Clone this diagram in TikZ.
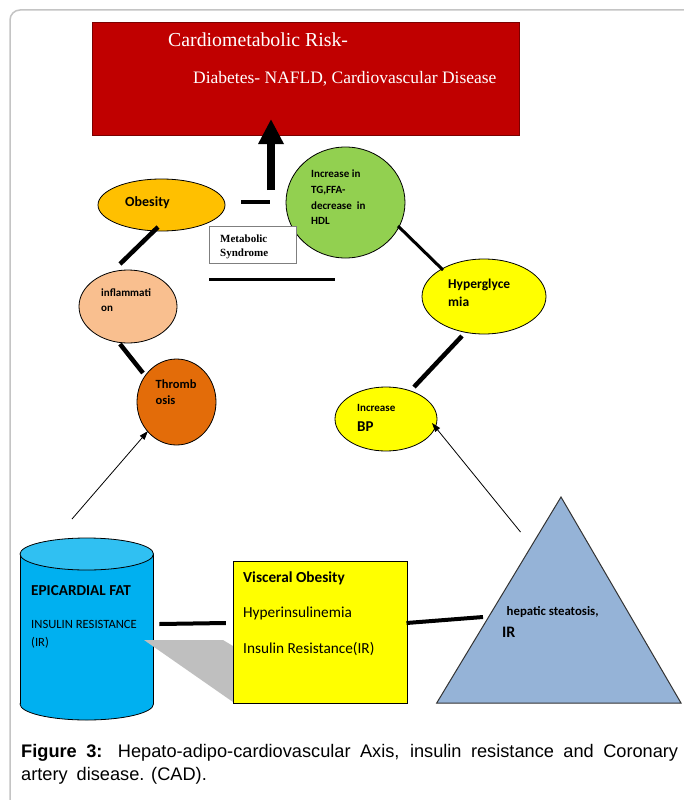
\documentclass[tikz,border=0pt]{standalone}
\usepackage{fontspec}
\usetikzlibrary{shapes.geometric,arrows.meta}
\newfontfamily\calfont{Carlito}
\newfontfamily\serfont{Liberation Serif}
\newfontfamily\arifont{Liberation Sans}
\definecolor{framegray}{HTML}{C4C4C4}
\definecolor{cmred}{HTML}{C00000}
\definecolor{cmredborder}{HTML}{7A0000}
\definecolor{obesc}{HTML}{FFC000}
\definecolor{greenc}{HTML}{92D050}
\definecolor{inflc}{HTML}{F9BF8F}
\definecolor{thromc}{HTML}{E36C09}
\definecolor{yelc}{HTML}{FFFF00}
\definecolor{tric}{HTML}{95B3D7}
\definecolor{cylbody}{HTML}{00B0F0}
\definecolor{cyltop}{HTML}{30C0F2}
\definecolor{shadowc}{HTML}{BFBFBF}
\definecolor{boxgray}{HTML}{7F7F7F}
\begin{document}
\begin{tikzpicture}[x=1pt,y=-1pt,
  txt/.style={inner sep=0pt, anchor=base west, font=\calfont\bfseries\fontsize{11}{13}\selectfont},
  ell/.style={ellipse, draw=black, line width=0.8pt, inner sep=0pt},
  conn/.style={line width=4.5pt},
  thinarr/.style={line width=0.8pt, -{Triangle[length=9pt,width=6pt]}}]
\useasboundingbox (0,0) rectangle (683,800);
\fill[white] (0,0) rectangle (683,800);
% frame
\draw[framegray, line width=1.5pt, rounded corners=10pt] (10,801) -- (10,10) -- (684,10);
% top red box
\node[draw=cmredborder, fill=cmred, line width=1pt, minimum width=427pt, minimum height=113pt, inner sep=0pt, anchor=north west] (risk) at (92,22) {};
\node[txt, font=\serfont\fontsize{19.8}{24}\selectfont, text=white] (riskT1) at (168,47) {Cardiometabolic Risk-};
\node[txt, font=\serfont\fontsize{17.5}{21}\selectfont, text=white] (riskT2) at (193,83.5) {Diabetes- NAFLD, Cardiovascular Disease};
% big arrow
\coordinate (arrbase) at (271,190);
\coordinate (arrtip) at (271,119);
\draw[line width=8pt, -{Triangle[length=25pt,width=24pt]}] (arrbase) -- (arrtip);
% ellipses
\node[ell, fill=obesc, minimum width=127pt, minimum height=52pt] (obes) at (161.5,205) {};
\node[txt, font=\calfont\bfseries\fontsize{14}{16}\selectfont] (obesT) at (125,206.5) {Obesity};
\node[ell, fill=greenc, minimum width=119pt, minimum height=111pt] (green) at (345.5,202.5) {};
\node[txt] (greenT1) at (311,177) {Increase in};
\node[txt] (greenT2) at (311,193) {TG,FFA-};
\node[txt] (greenT3) at (311,209) {decrease\ \ in};
\node[txt] (greenT4) at (311,224.5) {HDL};
\node[ell, fill=inflc, minimum width=98pt, minimum height=73pt] (infl) at (128,306.5) {};
\node[txt] (inflT1) at (101,296.5) {inflammati};
\node[txt] (inflT2) at (101,311.5) {on};
\node[ell, fill=thromc, minimum width=79pt, minimum height=86pt] (throm) at (176.5,402) {};
\node[txt, font=\calfont\bfseries\fontsize{12.5}{15}\selectfont] (thromT1) at (155.5,388) {Thromb};
\node[txt, font=\calfont\bfseries\fontsize{12.5}{15}\selectfont] (thromT2) at (155.5,404) {osis};
\node[ell, fill=yelc, minimum width=124pt, minimum height=75pt] (hyper) at (484,296.5) {};
\node[txt, font=\calfont\bfseries\fontsize{13.5}{16}\selectfont] (hyperT1) at (448,288) {Hyperglyce};
\node[txt, font=\calfont\bfseries\fontsize{13.5}{16}\selectfont] (hyperT2) at (448,306) {mia};
\node[ell, fill=yelc, minimum width=102pt, minimum height=64pt] (bp) at (386,419) {};
\node[txt] (bpT1) at (357,411.5) {Increase};
\node[txt, font=\calfont\bfseries\fontsize{15}{18}\selectfont] (bpT2) at (357,431.5) {BP};
% metabolic syndrome box
\node[draw=boxgray, fill=white, line width=0.9pt, minimum width=87pt, minimum height=37pt, inner sep=0pt, anchor=north west] (metab) at (209,226) {};
\node[txt, font=\serfont\bfseries\fontsize{11}{13}\selectfont] (metabT1) at (220,242.3) {Metabolic};
\node[txt, font=\serfont\bfseries\fontsize{11}{13}\selectfont] (metabT2) at (220,256) {Syndrome};
% loose lines
\coordinate (shortA) at (241,202);
\coordinate (shortB) at (270,202);
\draw[line width=4pt] (shortA) -- (shortB);
\coordinate (lowA) at (209,279);
\coordinate (lowB) at (335,279);
\draw[line width=3pt] (lowA) -- (lowB);
% connectors
\coordinate (c1a) at (158,227);
\coordinate (c1b) at (120,264);
\draw[conn] (c1a) -- (c1b);
\coordinate (c2a) at (120,344);
\coordinate (c2b) at (143,373);
\draw[conn] (c2a) -- (c2b);
\coordinate (c3a) at (398,226);
\coordinate (c3b) at (443,270);
\draw[line width=3pt] (c3a) -- (c3b);
\coordinate (c4a) at (462,336);
\coordinate (c4b) at (414,387);
\draw[conn] (c4a) -- (c4b);
% cylinder
\node[ell, fill=cylbody, minimum width=133.5pt, minimum height=32pt] (cylbot) at (86.75,704) {};
\fill[cylbody] (20,554) rectangle (153.5,704);
\draw[line width=0.8pt] (20,554) -- (20,704) (153.5,554) -- (153.5,704);
\node[ell, fill=cyltop, minimum width=133.5pt, minimum height=32pt] (cyltop) at (86.75,554) {};
\node[txt, font=\calfont\bfseries\fontsize{15.2}{17}\selectfont] (cylT1) at (31,595.7) {EPICARDIAL FAT};
\node[txt, font=\calfont\fontsize{12.6}{14}\selectfont] (cylT2) at (31,628) {INSULIN RESISTANCE};
\node[txt, font=\calfont\fontsize{12.6}{14}\selectfont] (cylT3) at (31,646) {(IR)};
% shadow
\fill[shadowc] (144,640) -- (223,640) -- (233,646) -- (233,702) -- cycle;
% visceral box
\node[draw=black, fill=yelc, line width=1pt, minimum width=173.5pt, minimum height=142pt, inner sep=0pt, anchor=north west] (visc) at (233,561) {};
\node[txt, font=\calfont\bfseries\fontsize{15.3}{17}\selectfont] (viscT1) at (243,582) {Visceral Obesity};
\node[txt, font=\calfont\fontsize{15.3}{17}\selectfont] (viscT2) at (243,617) {Hyperinsulinemia};
\node[txt, font=\calfont\fontsize{15.3}{17}\selectfont] (viscT3) at (243,653) {Insulin Resistance(IR)};
% triangle
\coordinate (tA) at (561,497);
\coordinate (tB) at (436.7,703);
\coordinate (tC) at (681,703);
\filldraw[fill=tric, draw=black!80, line width=1pt] (tA) -- (tB) -- (tC) -- cycle;
\node[txt, font=\calfont\bfseries\fontsize{12.8}{14}\selectfont] (triT1) at (506.5,615) {hepatic steatosis,};
\node[txt, font=\calfont\bfseries\fontsize{16}{19}\selectfont] (triT2) at (502,637.5) {IR};
% bottom connectors
\coordinate (c5a) at (159.4,624);
\coordinate (c5b) at (225.8,623);
\draw[line width=4pt] (c5a) -- (c5b);
\coordinate (c6a) at (406.5,623);
\coordinate (c6b) at (483,617);
\draw[line width=4pt] (c6a) -- (c6b);
% thin arrows
\coordinate (a1s) at (72,519);
\coordinate (a1e) at (148,431);
\draw[thinarr] (a1s) -- (a1e);
\coordinate (a2s) at (520.5,532);
\coordinate (a2e) at (432,423);
\draw[thinarr] (a2s) -- (a2e);
% caption
\node[inner sep=0pt, anchor=base west, text width=657pt, align=justify, font=\arifont\fontsize{18.2}{23}\selectfont] (cap) at (21,757.5) {{\bfseries Figure 3:} Hepato-adipo-cardiovascular Axis, insulin resistance and Coronary\linebreak artery\hspace{9pt}disease. (CAD).};
\end{tikzpicture}
\end{document}
